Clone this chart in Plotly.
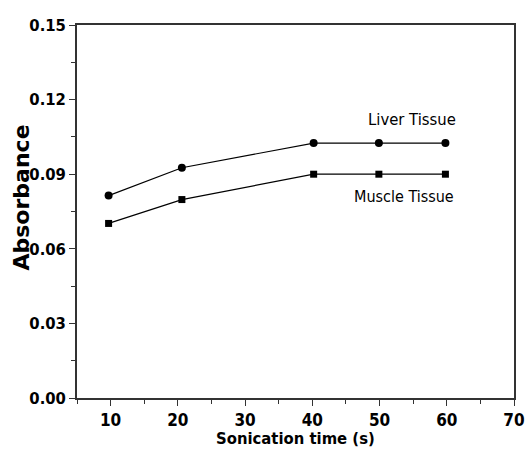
import plotly.graph_objects as go

time_liver = [9.7, 20.6, 40.2, 49.9, 59.8]
liver = [0.0814, 0.0926, 0.1025, 0.1025, 0.1025]
time_muscle = [9.7, 20.6, 40.2, 49.9, 59.8]
muscle = [0.0702, 0.0798, 0.0900, 0.0900, 0.0900]
x_ticks = [10, 20, 30, 40, 50, 60, 70]
y_ticks = [0.00, 0.03, 0.06, 0.09, 0.12, 0.15]

cond = "DejaVu Sans Condensed, Liberation Sans Narrow, Arial Narrow, sans-serif"

fig = go.Figure()
fig.add_trace(go.Scatter(x=time_liver, y=liver, mode="lines+markers",
                         line=dict(color="black", width=1.2),
                         marker=dict(symbol="circle", size=8, color="black"),
                         name="Liver Tissue"))
fig.add_trace(go.Scatter(x=time_muscle, y=muscle, mode="lines+markers",
                         line=dict(color="black", width=1.2),
                         marker=dict(symbol="square", size=7, color="black"),
                         name="Muscle Tissue"))

fig.add_annotation(x=54.9, y=0.1119, text="Liver Tissue", showarrow=False,
                   font=dict(family=cond, size=16.5, color="black"))
fig.add_annotation(x=53.6, y=0.0811, text="Muscle Tissue", showarrow=False,
                   font=dict(family=cond, size=16, color="black"))

# axis titles
fig.add_annotation(xref="paper", yref="paper", x=0.5, y=0, yshift=-40,
                   text="<b>Sonication time (s)</b>", showarrow=False,
                   xanchor="center", yanchor="middle",
                   font=dict(family=cond, size=16.5, color="black"))
fig.add_annotation(xref="paper", yref="paper", x=0, y=0.5, xshift=-56, yshift=14,
                   text="<b>Absorbance</b>", showarrow=False, textangle=-90,
                   xanchor="center", yanchor="middle",
                   font=dict(family="DejaVu Sans, Liberation Sans, sans-serif", size=22, color="black"))

axis_common = dict(showline=True, linecolor="#333333", linewidth=1.5, mirror=True,
                   showgrid=False, zeroline=False, ticks="outside", ticklen=6,
                   tickwidth=1.3, tickcolor="#333333", automargin=False)

fig.update_xaxes(range=[5, 70], tickvals=x_ticks, ticktext=[str(v) for v in x_ticks],
                 tickfont=dict(family=cond, size=17, color="black", weight="bold"),
                 minor=dict(ticks="outside", ticklen=4, tickwidth=1.3, tickcolor="#333333", dtick=5, tick0=5),
                 **axis_common)
fig.update_yaxes(range=[0, 0.15], tickvals=y_ticks, ticktext=["%.2f" % v for v in y_ticks],
                 tickfont=dict(family=cond, size=16.5, color="black", weight="bold"),
                 minor=dict(ticks="outside", ticklen=4, tickwidth=1.3, tickcolor="#333333", dtick=0.015, tick0=0),
                 **axis_common)

fig.update_layout(width=526, height=453, margin=dict(l=77, r=12, t=25, b=55),
                  paper_bgcolor="white", plot_bgcolor="white", showlegend=False)

# remove the default page margin so the figure fills the window exactly
fig.write_html("out.html",
               config={"displayModeBar": False},
               post_script="document.body.style.margin='0';"
                           "document.documentElement.style.overflow='hidden';"
                           "document.body.style.overflow='hidden';")
